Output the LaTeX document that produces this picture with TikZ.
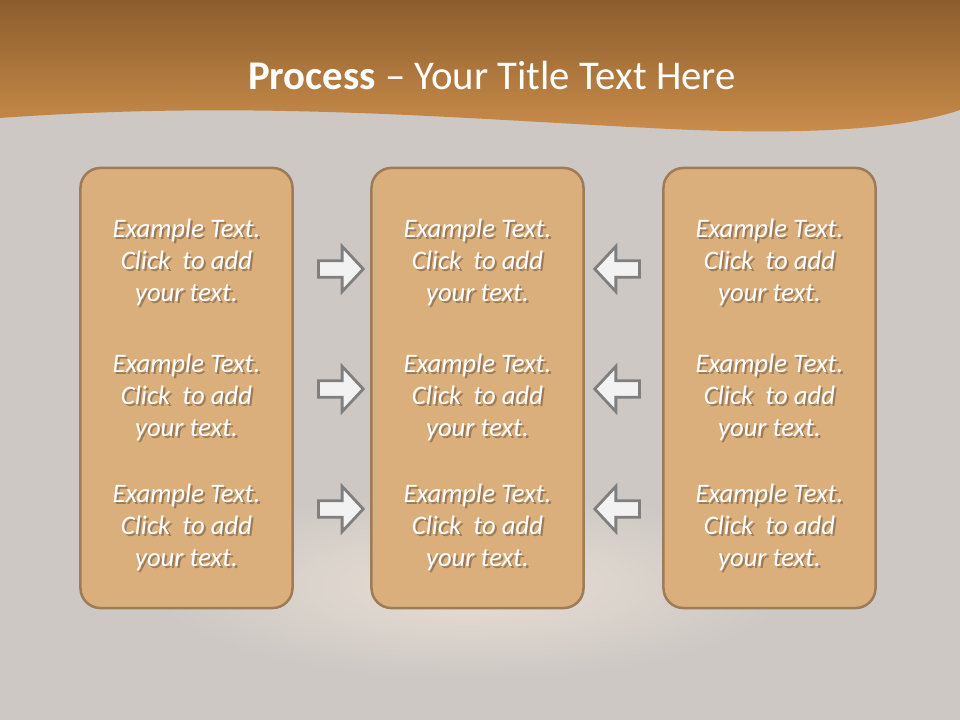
\documentclass[tikz,border=0pt]{standalone}
\usepackage{fontspec}
\setmainfont{Carlito}
\usetikzlibrary{shapes.arrows}

\definecolor{bandtop}{HTML}{8C5D2C}
\definecolor{bandbottom}{HTML}{CB8E4C}
\definecolor{slidegray}{HTML}{CDC8C4}
\definecolor{spotlight}{HTML}{E9DFD4}
\definecolor{boxfill}{HTML}{DBAF7C}
\definecolor{boxline}{HTML}{9E7C57}
\definecolor{txtshadow}{HTML}{9A7A58}
\definecolor{arrowline}{HTML}{7F7F7F}
\definecolor{arrowfill}{HTML}{F2F2F2}

\newcommand{\shadowline}[1]{\makebox[0pt][l]{\hspace{1.5pt}\raisebox{-1.5pt}{\textcolor{txtshadow}{#1}}}#1}
\newcommand{\exampletext}{\shadowline{Example Text.}\\\shadowline{Click~ to add}\\\shadowline{your text.}}

\begin{document}
\begin{tikzpicture}[
    x=0.025cm, y=-0.025cm,
    columna/.style={
        draw=boxline,
        line width=1.8pt,
        rounded corners=0.5cm,
        minimum width=5.3cm,
        minimum height=11cm,
        fill=boxfill
    },
    texto/.style={
        align=center,
        text=white,
        font=\fontsize{19}{22.8}\selectfont\itshape
    },
    flecha/.style={
        single arrow,
        draw=arrowline,
        line width=2pt,
        fill=arrowfill,
        inner xsep=0pt,
        inner ysep=0.17cm,
        minimum height=1.12cm,
        minimum width=1.07cm,
        single arrow head extend=0.36cm,
        single arrow tip angle=94
    }
]
    \useasboundingbox (0,0) rectangle (960,720);

    % fondo
    \fill[slidegray] (0,0) rectangle (960,720);
    \shade[inner color=spotlight, outer color=slidegray] (470,585) ellipse (320 and 95);
    \shade[top color=bandtop, bottom color=bandbottom]
        (0,0) -- (960,0) -- (960,110)
        .. controls (900,130) and (800,136) .. (650,128)
        .. controls (450,118) and (250,100) .. (0,118) -- cycle;

    \node[text=white, font=\fontsize{29}{34}\selectfont] (titulo) at (492,75)
        {\textbf{Process} -- Your Title Text Here};

    % columnas
    \node[columna] (izq) at (186.5,388) {};
    \node[columna] (centro) at (477.5,388) {};
    \node[columna] (der) at (769.5,388) {};

    \node[texto] (izq1) at (186.5,263) {\exampletext};
    \node[texto] (izq2) at (186.5,398) {\exampletext};
    \node[texto] (izq3) at (186.5,528) {\exampletext};
    \node[texto] (centro1) at (477.5,263) {\exampletext};
    \node[texto] (centro2) at (477.5,398) {\exampletext};
    \node[texto] (centro3) at (477.5,528) {\exampletext};
    \node[texto] (der1) at (769.5,263) {\exampletext};
    \node[texto] (der2) at (769.5,398) {\exampletext};
    \node[texto] (der3) at (769.5,528) {\exampletext};

    % flechas
    \node[flecha] (fi1) at (337,269) {};
    \node[flecha] (fi2) at (337,389) {};
    \node[flecha] (fi3) at (337,509) {};
    \node[flecha, shape border rotate=180] (fd1) at (621,269) {};
    \node[flecha, shape border rotate=180] (fd2) at (621,389) {};
    \node[flecha, shape border rotate=180] (fd3) at (621,509) {};
\end{tikzpicture}
\end{document}
